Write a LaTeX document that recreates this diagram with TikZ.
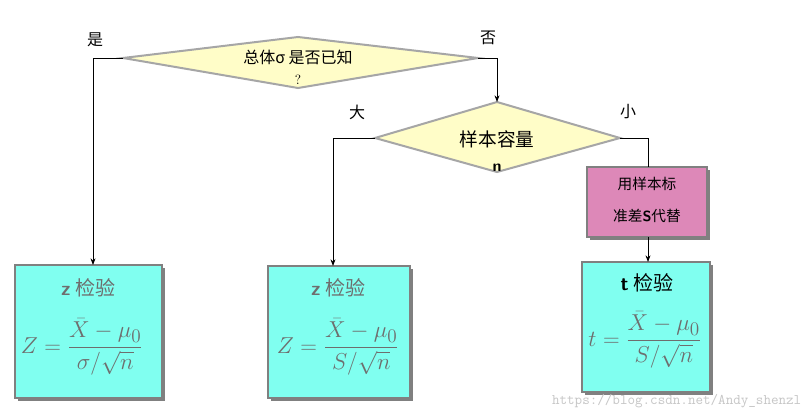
\documentclass[tikz,border=0pt]{standalone}
\usepackage{amsmath}
\usepackage{fontspec}
\newfontfamily\cjk{Noto Sans CJK SC}
\usetikzlibrary{shapes.geometric,arrows.meta}
\definecolor{dia}{HTML}{FFFDC8}
\definecolor{cy}{HTML}{80FFF0}
\definecolor{pk}{HTML}{DD88B8}
\definecolor{gt}{HTML}{6E6E6E}
\begin{document}
\begin{tikzpicture}[x=0.75pt,y=-0.75pt,
  decision/.style={draw=gray!70,line width=1.5pt,fill=dia},
  box/.style={draw=gray,line width=1pt,fill=cy},
  line/.style={draw=black,line width=0.6pt},
  arr/.style={line,-{Stealth[length=5pt]}},
  lab/.style={font=\cjk\fontsize{12}{12}\selectfont},
  fml/.style={text=gt,font=\fontsize{19}{19}\selectfont}]
\fill[white] (0,0) rectangle (809,420);
\useasboundingbox (0,0) rectangle (809,420);
% diamond 1
\coordinate (d1l) at (123,58); \coordinate (d1r) at (478,58);
\coordinate (d1t) at (298,37); \coordinate (d1b) at (298,88);
\draw[decision] (d1l)--(d1t)--(d1r)--(d1b)--cycle;
\node[lab] (q1) at (298,57) {总体σ 是否已知};
\node[font=\fontsize{10}{10}\selectfont] (q1b) at (298,80) {?};
% diamond 2
\coordinate (d2l) at (375,138); \coordinate (d2r) at (620,138);
\coordinate (d2t) at (497,102); \coordinate (d2b) at (497,172);
\draw[decision] (d2l)--(d2t)--(d2r)--(d2b)--cycle;
\node[lab,font=\cjk\fontsize{14}{14}\selectfont] (q2) at (497,139) {样本容量};
\node[font=\sffamily\bfseries\fontsize{12}{12}\selectfont] (q2n) at (497,168) {n};
% labels
\node[lab] (yes) at (95,40) {是};
\node[lab] (no) at (488,38) {否};
\node[lab] (big) at (357,112) {大};
\node[lab] (small) at (628,112) {小};
% boxes with shadow
\fill[gray] (18,268) rectangle (165,401);
\draw[box] (15,265) rectangle (162,398);
\fill[gray] (271,269) rectangle (413,401);
\draw[box] (268,266) rectangle (410,398);
\fill[gray] (585,265) rectangle (713,395);
\draw[box] (582,262) rectangle (710,392);
\fill[gray] (590,170) rectangle (710,240);
\draw[draw=gray,line width=1pt,fill=pk] (587,167) rectangle (707,237);
\node[lab,font=\cjk\fontsize{11}{11}\selectfont] (p1) at (647,184) {用样本标};
\node[lab,font=\cjk\fontsize{11}{11}\selectfont] (p2) at (647,216) {准差\textsf{\bfseries S}代替};
\coordinate (pt) at (648,167); \coordinate (pb) at (648,237);
\coordinate (b1t) at (93,265); \coordinate (b2t) at (333,266); \coordinate (b3t) at (648,262);
% texts
\node[text=gt,font=\cjk\fontsize{15}{15}\selectfont] (z1) at (88,288) {\textsf{\bfseries z} 检验};
\node[fml] (f1) at (82,347) {$Z=\dfrac{\bar X-\mu_0}{\sigma/\sqrt{n}}$};
\node[text=gt,font=\cjk\fontsize{15}{15}\selectfont] (z2) at (338,288) {\textsf{\bfseries z} 检验};
\node[fml] (f2) at (338,347) {$Z=\dfrac{\bar X-\mu_0}{S/\sqrt{n}}$};
\node[font=\cjk\fontsize{15}{15}\selectfont] (t3) at (647,283) {\textsf{\bfseries t} 检验};
\node[fml] (f3) at (645,340) {$t=\dfrac{\bar X-\mu_0}{S/\sqrt{n}}$};
% connectors
\draw[arr] (d1l) -- (93,58) -- (b1t);
\draw[arr] (d1r) -- (497,58) -- (d2t);
\draw[arr] (d2l) -- (333,138) -- (b2t);
\draw[line] (d2r) -- (648,138) -- (pt);
\draw[arr] (pb) -- (b3t);
\node[text=gray!45,font=\ttfamily\fontsize{11}{11}\selectfont,anchor=east] (wm) at (806,401) {https://blog.csdn.net/Andy\_shenzl};
\end{tikzpicture}
\end{document}
